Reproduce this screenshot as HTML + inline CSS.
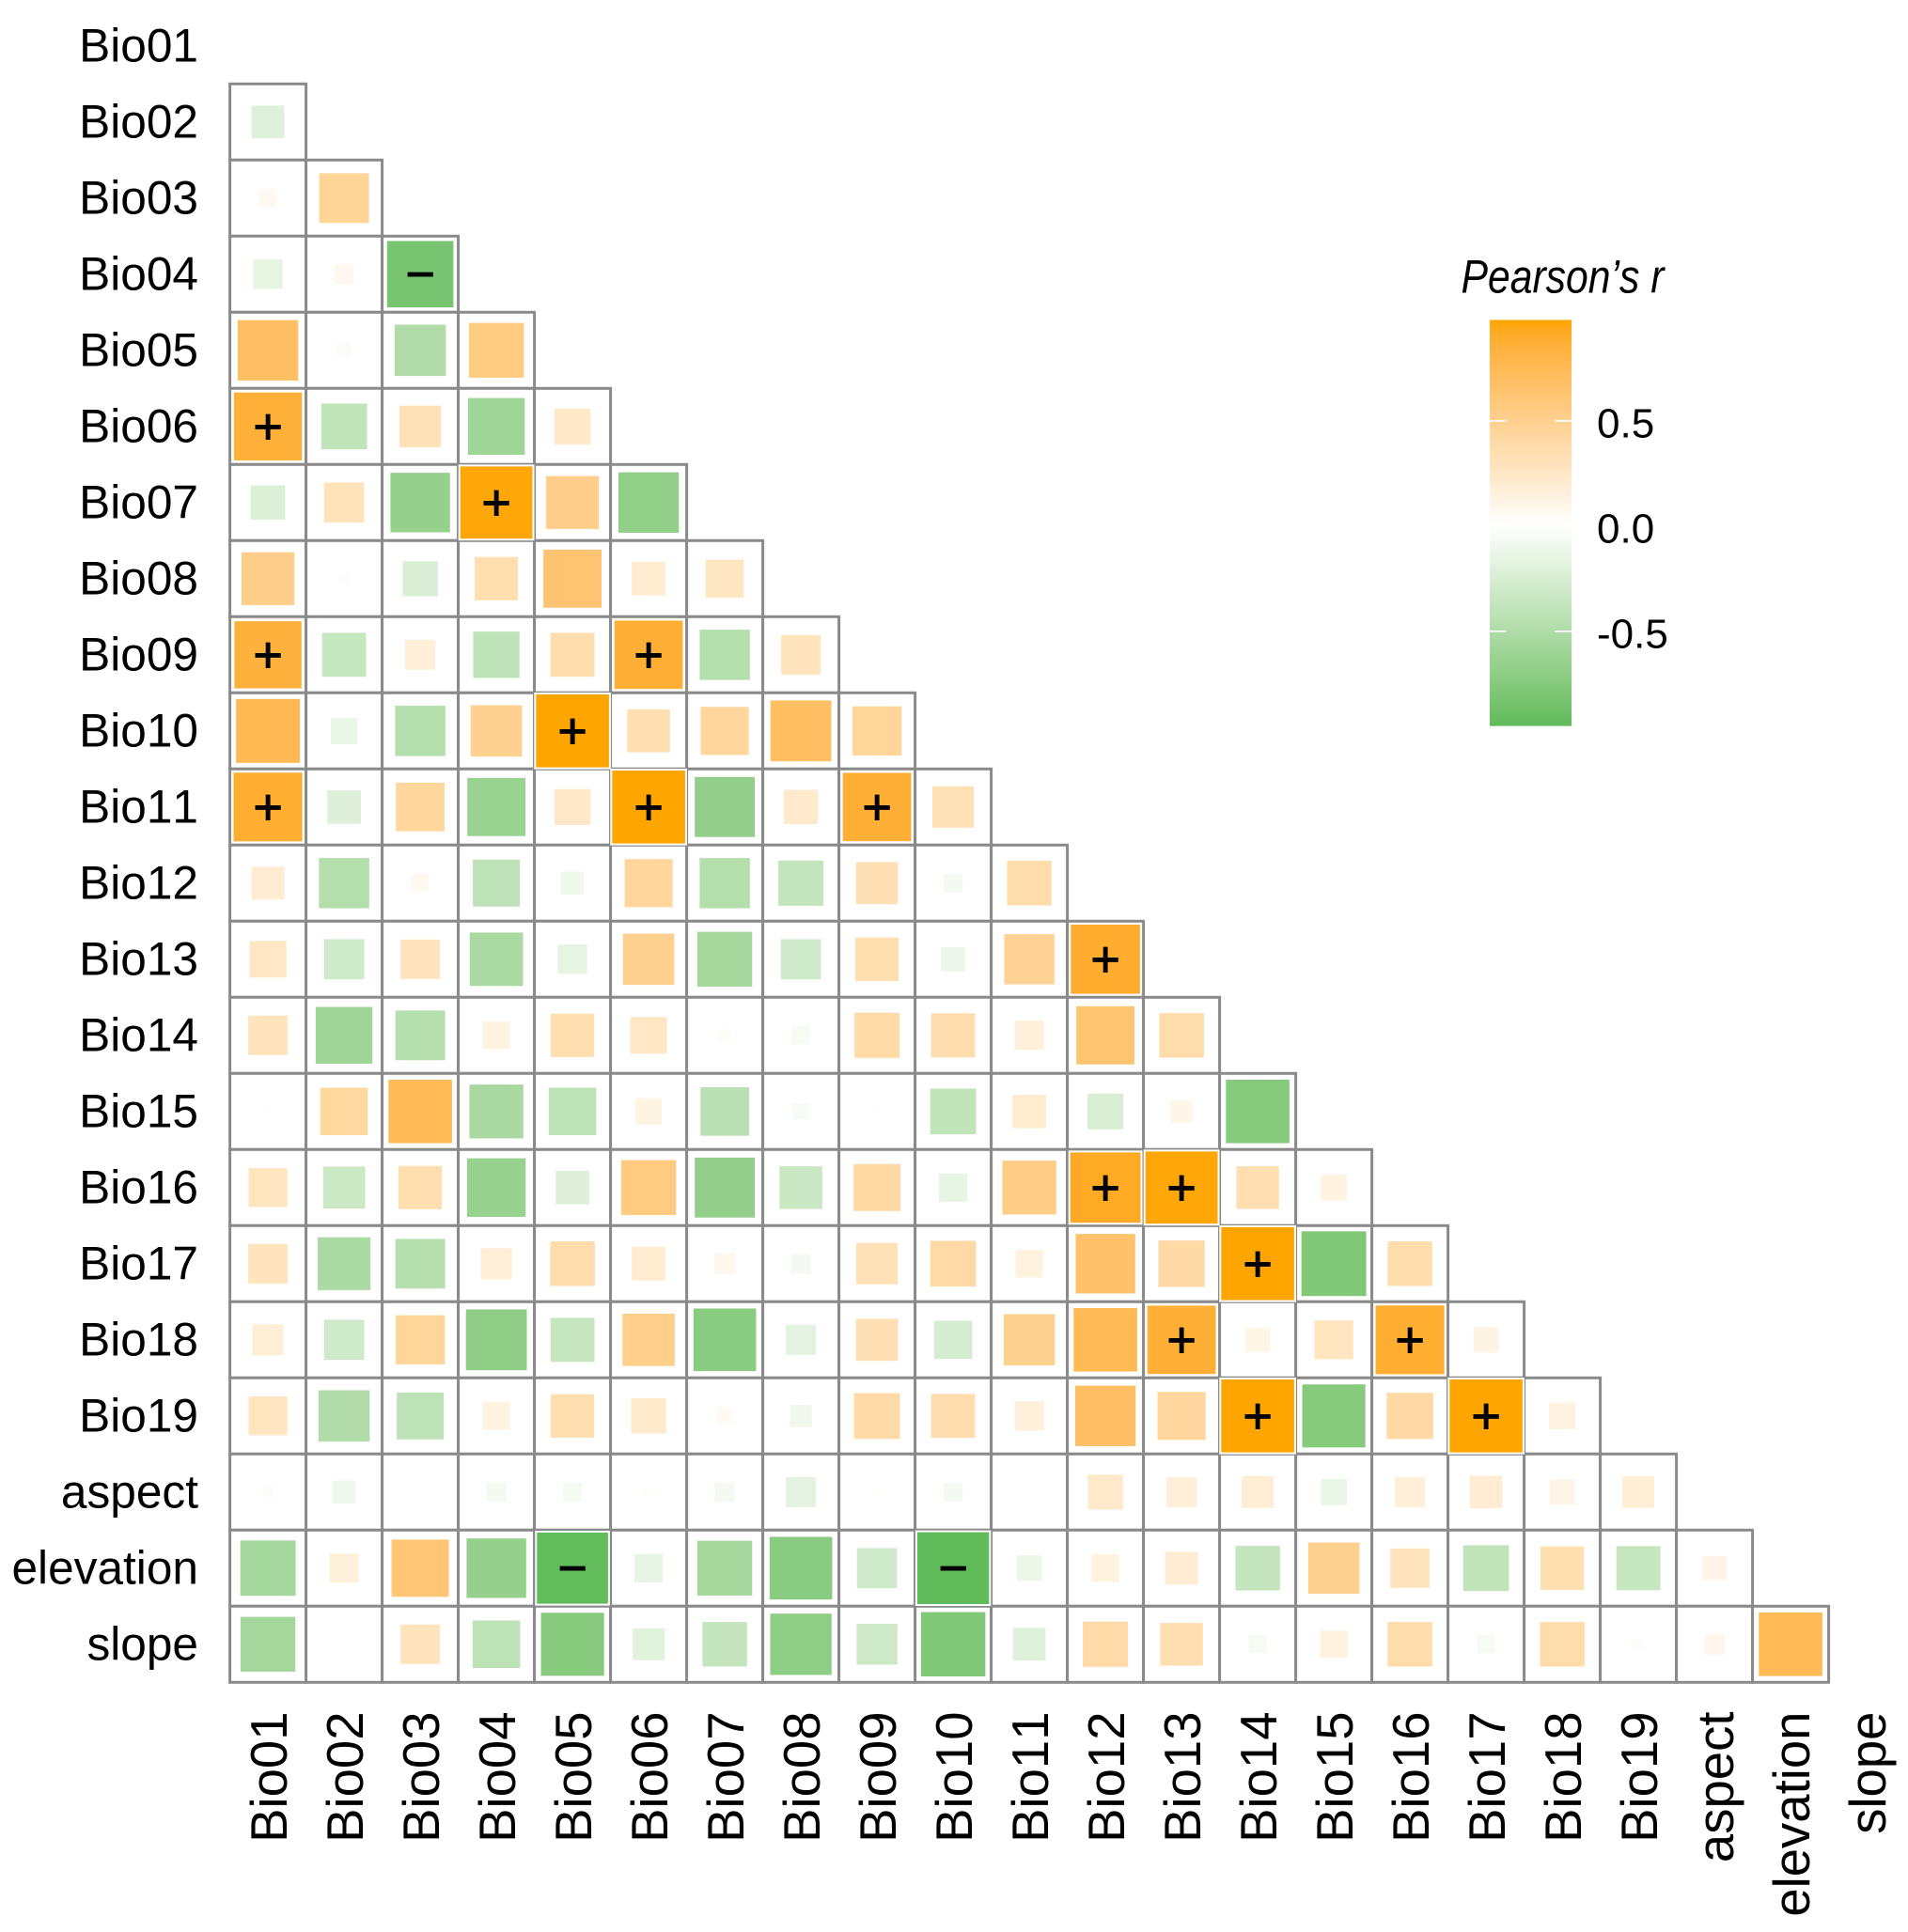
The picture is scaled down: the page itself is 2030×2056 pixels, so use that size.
<!DOCTYPE html>
<html lang="en">
<head>
<meta charset="utf-8">
<title>Pearson correlation matrix</title>
<style>
html,body{margin:0;padding:0;background:#fff;}
svg{display:block;font-family:"Liberation Sans",Arial,sans-serif;font-kerning:none;}
</style>
</head>
<body>
<svg id="chart" xmlns="http://www.w3.org/2000/svg" width="2030" height="2056" viewBox="0 0 2030 2056">
  <rect x="0" y="0" width="2030" height="2056" fill="#ffffff"/>
  <defs>
    <linearGradient id="legendGrad" x1="0" y1="0" x2="0" y2="1"></linearGradient>
  </defs>
  <g id="grid"></g>
  <g id="tiles"></g>
  <g id="signs"></g>
  <g id="ylabels"></g>
  <g id="xlabels"></g>
  <g id="legend">
    <text transform="translate(1554.5 311.5) scale(0.854 1)" font-size="50" font-style="italic" fill="#000">Pearson’s r</text>
  </g>
</svg>
<script>
const categories = ["Bio01","Bio02","Bio03","Bio04","Bio05","Bio06","Bio07","Bio08","Bio09","Bio10","Bio11","Bio12","Bio13","Bio14","Bio15","Bio16","Bio17","Bio18","Bio19","aspect","elevation","slope"];

const rBio02 = [-.20];
const rBio03 = [.06,.46];
const rBio04 = [-.16,.07,-.82];
const rBio05 = [.68,-.04,-.49,.56];
const rBio06 = [.86,-.39,.32,-.60,.24];
const rBio07 = [-.22,.30,-.66,.97,.52,-.68];
const rBio08 = [.52,-.02,-.23,.35,.63,.21,.27];
const rBio09 = [.84,-.36,.17,-.40,.36,.87,-.47,.29];
const rBio10 = [.76,-.13,-.47,.49,.99,.34,.43,.69,.45];
const rBio11 = [.88,-.21,.44,-.63,.24,.99,-.67,.22,.87,.32];
const rBio12 = [.20,-.47,.06,-.41,-.10,.43,-.47,-.38,.33,-.07,.37];
const rBio13 = [.25,-.30,.29,-.53,-.16,.49,-.56,-.30,.35,-.11,.47,.89];
const rBio14 = [.29,-.60,-.46,.14,.35,.25,.03,-.06,.38,.36,.16,.63,.37];
const rBio15 = [-.01,.42,.75,-.54,-.42,.13,-.44,-.05,.015,-.39,.21,-.24,.09,-.75];
const rBio16 = [.28,-.33,.35,-.64,-.21,.56,-.67,-.34,.41,-.15,.54,.92,.97,.34,.13];
const rBio17 = [.29,-.52,-.46,.18,.37,.21,.08,-.07,.32,.39,.14,.66,.40,.99,-.78,.37];
const rBio18 = [.18,-.30,.45,-.69,-.36,.51,-.73,-.17,.33,-.27,.49,.75,.87,.11,.28,.88,.12];
const rBio19 = [.28,-.49,-.41,.14,.35,.23,.05,-.09,.39,.36,.16,.68,.43,.99,-.74,.40,.99,.135];
const rAspect = [-.026,-.10,.002,-.07,-.065,.02,-.07,-.17,.012,-.07,.005,.23,.17,.19,-.13,.17,.196,.116,.187];
const rElevation = [-.57,.16,.61,-.66,-.94,-.15,-.56,-.73,-.30,-.96,-.12,.14,.20,-.37,.49,.29,-.39,.35,-.36,.11];
const rSlope = [-.56,-.002,.29,-.42,-.74,-.19,-.37,-.70,-.31,-.77,-.20,.38,.34,-.06,.14,.37,-.06,.37,-.03,.08,.75];

const matrixRows = [rBio02,rBio03,rBio04,rBio05,rBio06,rBio07,rBio08,rBio09,rBio10,rBio11,rBio12,rBio13,rBio14,rBio15,rBio16,rBio17,rBio18,rBio19,rAspect,rElevation,rSlope];

const legendTicks = [0.5,0,-0.5];
const legendTickLabels = ["0.5","0.0","-0.5"];
const legendRange = [-0.95,0.98];
const signThreshold = 0.8;

const NS = "http://www.w3.org/2000/svg";
const GRID_LEFT = 244.6, GRID_TOP = 89.3, CELL = 81, MAX_SIDE = 78;
const LEG_X = 1585, LEG_W = 87, LEG_ZERO = 559.9, LEG_UNIT = 223.9;

function xPos(col){ return GRID_LEFT + CELL * col; }
function yPos(row){ return GRID_TOP + CELL * (row - 1); }
function sideOf(r){ return MAX_SIDE * Math.sqrt(Math.abs(r)); }
function legendY(r){ return LEG_ZERO - LEG_UNIT * r; }

function toLin(c){ c/=255; return c<=0.04045 ? c/12.92 : Math.pow((c+0.055)/1.055,2.4); }
function fromLin(c){ c = c<=0.0031308 ? 12.92*c : 1.055*Math.pow(c,1/2.4)-0.055; return Math.max(0,Math.min(255,Math.round(c*255))); }
function rgb2lab(rgb){
  const R=toLin(rgb[0]),G=toLin(rgb[1]),B=toLin(rgb[2]);
  const X=(0.4124*R+0.3576*G+0.1805*B)/0.95047,Y=0.2126*R+0.7152*G+0.0722*B,Z=(0.0193*R+0.1192*G+0.9505*B)/1.08883;
  const f=t=>t>0.008856?Math.cbrt(t):7.787*t+16/116;
  return [116*f(Y)-16,500*(f(X)-f(Y)),200*(f(Y)-f(Z))];
}
function lab2hex(l){
  const fy=(l[0]+16)/116,fx=fy+l[1]/500,fz=fy-l[2]/200;
  const g=t=>t*t*t>0.008856?t*t*t:(t-16/116)/7.787;
  const X=g(fx)*0.95047,Y=g(fy),Z=g(fz)*1.08883;
  const R=3.2406*X-1.5372*Y-0.4986*Z,G=-0.9689*X+1.8758*Y+0.0415*Z,B=0.0557*X-0.2040*Y+1.0570*Z;
  return "#"+[R,G,B].map(v=>fromLin(v).toString(16).padStart(2,"0")).join("");
}
const LAB_WHITE = rgb2lab([255,255,255]);
const LAB_HIGH = rgb2lab([255,165,0]);
const LAB_LOW = rgb2lab([95,186,89]);
function colorOf(r){
  const t=r>=0?Math.min(1,r/0.98):Math.min(1,-r/0.96);
  const end=r>=0?LAB_HIGH:LAB_LOW;
  return lab2hex(LAB_WHITE.map((v,i)=>v+(end[i]-v)*t));
}
function make(tag,attrs,parent){
  const el=document.createElementNS(NS,tag);
  for(const k in attrs){ el.setAttribute(k,attrs[k]); }
  parent.appendChild(el);
  return el;
}

const gridG=document.getElementById("grid");
const tilesG=document.getElementById("tiles");
const signsG=document.getElementById("signs");
const yG=document.getElementById("ylabels");
const xG=document.getElementById("xlabels");
const legG=document.getElementById("legend");

matrixRows.forEach(function(values,idx){
  const row=idx+1;
  values.forEach(function(r,col){
    const cell=make("rect",{x:xPos(col),y:yPos(row),width:CELL,height:CELL,fill:"#ffffff",stroke:"#8a8a8a","stroke-width":3},gridG);
    
    
  });
});

matrixRows.forEach(function(values,idx){
  const row=idx+1;
  values.forEach(function(r,col){
    const s=sideOf(r)+2;
    const cx=xPos(col)+CELL/2, cy=yPos(row)+CELL/2;
    const tile=make("rect",{x:cx-s/2,y:cy-s/2,width:s,height:s,fill:colorOf(r),stroke:"#ffffff","stroke-width":2},tilesG);
    
    
    if(Math.abs(r)>signThreshold){
      const sign=make("text",{x:cx,y:cy+18,"font-size":54,"text-anchor":"middle",fill:"#000",stroke:"#000","stroke-width":1},signsG);
      sign.textContent=r>0?"+":"\u2212";
      
      
    }
  });
});

categories.forEach(function(name,i){
  const yc=GRID_TOP+CELL*(i-1)+CELL/2;
  const yl=make("text",{x:211,y:yc+16.8,"font-size":49.6,"text-anchor":"end",fill:"#000"},yG);
  yl.textContent=name;
  
  
  const xb=xPos(i)+CELL/2+19.7;
  const xl=make("text",{x:0,y:0,transform:"translate("+xb+" 1821.5) rotate(-90)","font-size":54.5,"text-anchor":"end",fill:"#000"},xG);
  xl.textContent=name;
  
  
});

const grad=document.getElementById("legendGrad");
for(let i=0;i<=40;i++){
  const t=i/40;
  const r=legendRange[1]+(legendRange[0]-legendRange[1])*t;
  make("stop",{offset:t,"stop-color":colorOf(r)},grad);
}
const legTop=legendY(legendRange[1]), legBottom=legendY(legendRange[0]);
const bar=make("rect",{x:LEG_X,y:legTop,width:LEG_W,height:legBottom-legTop,fill:"url(#legendGrad)"},legG);


legendTicks.forEach(function(v,i){
  const y=legendY(v);
  if(v!==0){
    const t1=make("line",{x1:LEG_X,x2:LEG_X+17.6,y1:y,y2:y,stroke:"#ffffff","stroke-width":1.6},legG);
    
    
    const t2=make("line",{x1:LEG_X+LEG_W-17.6,x2:LEG_X+LEG_W,y1:y,y2:y,stroke:"#ffffff","stroke-width":1.6},legG);
    
    
  }
  const lab=make("text",{x:1699,y:y+17.5,"font-size":44,fill:"#000"},legG);
  lab.textContent=legendTickLabels[i];
  
  
});
</script>
</body>
</html>
